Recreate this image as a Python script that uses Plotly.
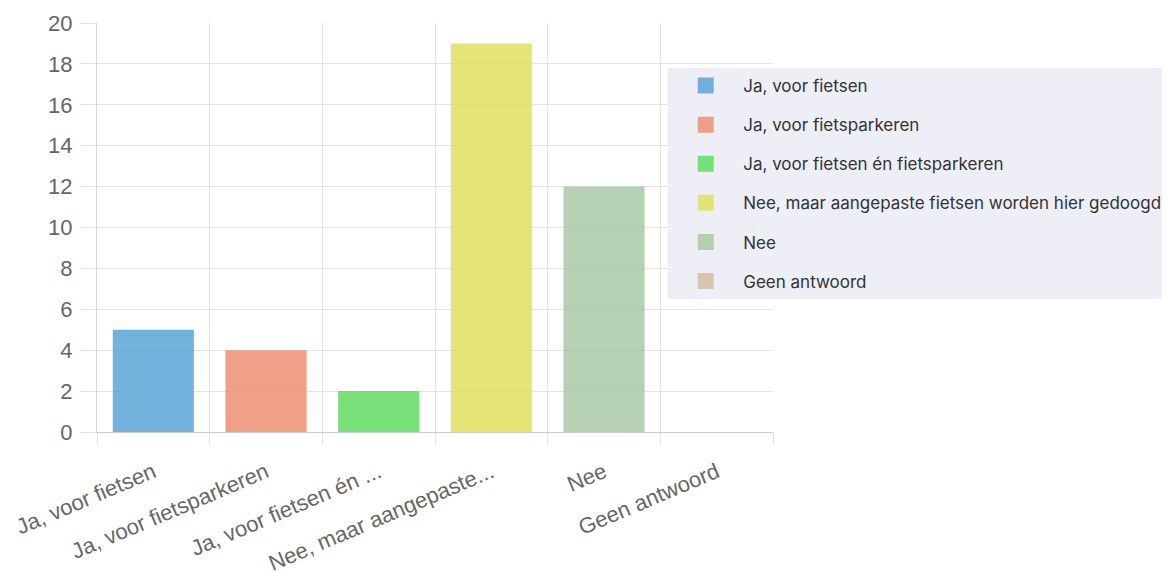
import plotly.graph_objects as go

categories = ["Ja, voor fietsen", "Ja, voor fietsparkeren", "Ja, voor fietsen én fietsparkeren",
              "Nee, maar aangepaste fietsen worden hier gedoogd*", "Nee", "Geen antwoord"]
tick_labels = ["Ja, voor fietsen", "Ja, voor fietsparkeren", "Ja, voor fietsen én ...",
               "Nee, maar aangepaste...", "Nee", "Geen antwoord"]
values = [5, 4, 2, 19, 12, 0]
colors = ["rgba(89,164,214,0.85)", "rgba(237,143,113,0.85)", "rgba(99,219,99,0.85)",
          "rgba(223,223,95,0.85)", "rgba(169,200,166,0.85)", "rgba(209,189,162,0.85)"]
y_ticks = list(range(0, 21, 2))

fig = go.Figure()
for i, (cat, lab, val, col) in enumerate(zip(categories, tick_labels, values, colors)):
    fig.add_trace(go.Bar(
        x=[lab], y=[val], name=cat, width=0.72,
        marker=dict(color=col, line=dict(width=0)),
        legendgroup=f"g{i}", showlegend=False, hovertemplate="%{y}<extra>" + cat + "</extra>",
    ))
    # legend-only entry with a larger swatch
    fig.add_trace(go.Scatter(
        x=[None], y=[None], name=cat, mode="markers",
        marker=dict(symbol="square", size=22, color=col, line=dict(width=0)),
        legendgroup=f"g{i}", showlegend=True, hoverinfo="skip",
    ))

# page body has an 8px margin; figure sized so the plot area lands where the reference has it
fig.update_layout(
    width=1170, height=564,
    margin=dict(l=89, r=405, t=15, b=140, autoexpand=False),
    paper_bgcolor="white", plot_bgcolor="white",
    barmode="overlay",
    showlegend=True,
    legend=dict(
        x=0.845, y=0.89, xanchor="left", yanchor="top",
        bgcolor="#eeeef6", borderwidth=0,
        font=dict(family="Inter", size=17, color="#333333"),
        itemwidth=65, tracegroupgap=14,
        itemclick=False, itemdoubleclick=False,
    ),
    xaxis=dict(
        type="category",
        categoryorder="array", categoryarray=tick_labels,
        range=[-0.5, 5.5],
        tickangle=-23,
        tickson="boundaries", ticks="outside", ticklen=12, tickcolor="#e3e3e3",
        ticklabelstandoff=18,
        showgrid=True, gridcolor="#e3e3e3", gridwidth=1,
        showline=True, linecolor="#cccccc", linewidth=1,
        tickfont=dict(family="Liberation Sans, Arial", size=22, color="#666666"),
        zeroline=False, automargin=False,
    ),
    yaxis=dict(
        range=[0, 20],
        tickmode="array", tickvals=y_ticks,
        ticks="outside", ticklen=15, tickcolor="#e3e3e3",
        ticklabelstandoff=4,
        showgrid=True, gridcolor="#e3e3e3", gridwidth=1,
        showline=True, linecolor="#d6d6d6", linewidth=1,
        tickfont=dict(family="Liberation Sans, Arial", size=22, color="#666666"),
        zeroline=False, automargin=False,
    ),
)

fig.write_html("out.html")
